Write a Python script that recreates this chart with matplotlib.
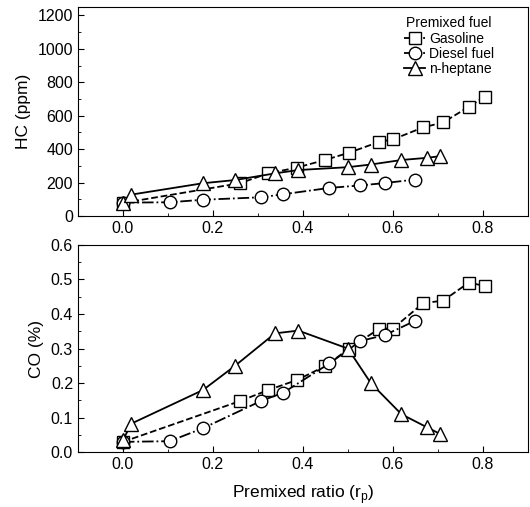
import matplotlib
matplotlib.use("Agg")
import matplotlib.pyplot as plt
from matplotlib.ticker import MultipleLocator, FormatStrFormatter

plt.rcParams['font.family'] = ['Liberation Sans', 'DejaVu Sans']

# premixed ratio positions and values
gas_x = [0, 0.26, 0.323, 0.387, 0.449, 0.503, 0.57, 0.60, 0.667, 0.712, 0.769, 0.804]
gas_hc = [78, 196, 255, 290, 335, 379, 444, 458, 530, 560, 654, 713]
gas_co = [0.03, 0.148, 0.18, 0.209, 0.249, 0.30, 0.358, 0.358, 0.431, 0.439, 0.491, 0.481]

dsl_x = [0, 0.104, 0.177, 0.308, 0.356, 0.459, 0.528, 0.582, 0.649]
dsl_hc = [80, 82, 97, 112, 130, 168, 183, 197, 218]
dsl_co = [0.03, 0.032, 0.069, 0.149, 0.172, 0.257, 0.322, 0.339, 0.38]

hep_x = [0, 0.019, 0.178, 0.249, 0.338, 0.39, 0.50, 0.551, 0.619, 0.676, 0.705]
hep_hc = [78, 128, 196, 215, 255, 275, 292, 308, 335, 348, 358]
hep_co = [0.035, 0.083, 0.18, 0.25, 0.344, 0.352, 0.30, 0.20, 0.11, 0.072, 0.053]

labels = ["Gasoline", "Diesel fuel", "n-heptane"]

fig = plt.figure(figsize=(5.30, 5.07), dpi=100)
ax1 = fig.add_axes([0.147, 0.574, 0.849, 0.412])
ax2 = fig.add_axes([0.147, 0.108, 0.849, 0.409])

def draw(ax, ys):
    styles = [("--", "s", 8), ("-.", "o", 9), ("-", "^", 10)]
    xs = [gas_x, dsl_x, hep_x]
    for x, y, (ls, mk, ms), lab in zip(xs, ys, styles, labels):
        ax.plot(x, y, ls=ls, marker=mk, ms=ms, mfc="white", mec="black",
                mew=1.0, color="black", lw=1.3, label=lab)
    ax.set_xlim(-0.1, 0.9)
    ax.xaxis.set_major_locator(MultipleLocator(0.2))
    ax.xaxis.set_minor_locator(MultipleLocator(0.1))
    ax.xaxis.set_major_formatter(FormatStrFormatter("%.1f"))
    ax.tick_params(which="both", direction="in", top=False, right=False,
                   labelsize=11.5)
    ax.tick_params(which="major", length=4)
    ax.tick_params(which="minor", length=2)
    for s in ax.spines.values():
        s.set_linewidth(0.8)

draw(ax1, [gas_hc, dsl_hc, hep_hc])
ax1.set_ylim(0, 1250)
ax1.yaxis.set_major_locator(MultipleLocator(200))
ax1.yaxis.set_minor_locator(MultipleLocator(100))
ax1.set_ylabel("HC (ppm)", fontsize=12.5, labelpad=5)
ax1.legend(title="Premixed fuel", loc="upper right", bbox_to_anchor=(0.95, 1.01),
           frameon=False, fontsize=10, title_fontsize=10, handlelength=1.5,
           handletextpad=0.3, labelspacing=0.1, borderpad=0.3)

draw(ax2, [gas_co, dsl_co, hep_co])
ax2.set_ylim(0, 0.6)
ax2.yaxis.set_major_locator(MultipleLocator(0.1))
ax2.yaxis.set_minor_locator(MultipleLocator(0.05))
ax2.yaxis.set_major_formatter(FormatStrFormatter("%.1f"))
ax2.set_ylabel("CO (%)", fontsize=12.5, labelpad=5)
ax2.set_xlabel("Premixed ratio (r$_\\mathregular{p}$)", fontsize=12.5, labelpad=8)

fig.savefig("out.png", dpi=100)
